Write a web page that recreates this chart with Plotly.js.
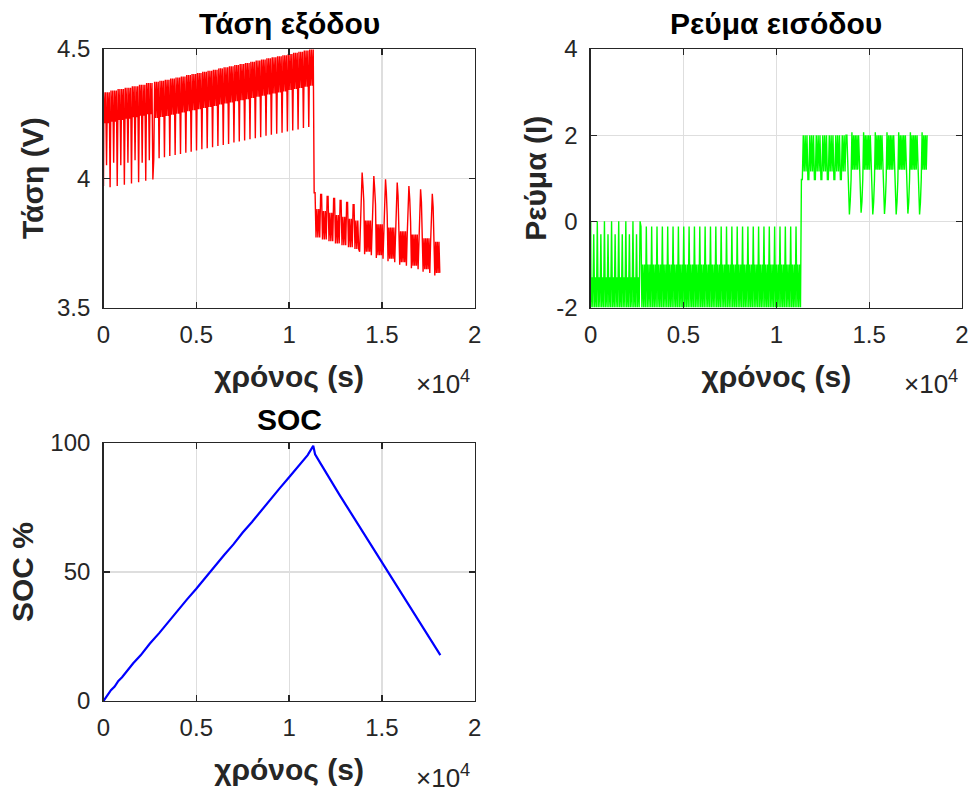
<!DOCTYPE html>
<html>
<head>
<meta charset="utf-8">
<script src="https://cdn.plot.ly/plotly-3.0.1.min.js"></script>
<style>html,body{margin:0;padding:0;background:#fff;}#chart{width:973px;height:793px;}</style>
</head>
<body>
<div id="chart"></div>
<script>
// ---------- DATA ----------
// Charging phase time samples (s)
const tCharge = [0,
 20,68,116,164,212,260,308,356, 404,452,500,548,596,644,692,740,
 788,836,884,932,980,1028,1076,1124, 1172,1220,1268,1316,1364,1412,1460,1508,
 1556,1604,1652,1700,1748,1796,1844,1892, 1940,1988,2036,2084,2132,2180,2228,2276,
 2324,2372,2420,2468,2516,2564,2612,2660,
 2708,2756,2804,2852,2900,2948, 2996,3044,3092,3140,3188,3236,
 3284,3332,3380,3428,3476,3524, 3572,3620,3668,3716,3764,3812,
 3860,3908,3956,4004,4052,4100, 4148,4196,4244,4292,4340,4388,
 4436,4484,4532,4580,4628,4676, 4724,4772,4820,4868,4916,4964,
 5012,5060,5108,5156,5204,5252, 5300,5348,5396,5444,5492,5540,
 5588,5636,5684,5732,5780,5828, 5876,5924,5972,6020,6068,6116,
 6164,6212,6260,6308,6356,6404, 6452,6500,6548,6596,6644,6692,
 6740,6788,6836,6884,6932,6980, 7028,7076,7124,7172,7220,7268,
 7316,7364,7412,7460,7508,7556, 7604,7652,7700,7748,7796,7844,
 7892,7940,7988,8036,8084,8132, 8180,8228,8276,8324,8372,8420,
 8468,8516,8564,8612,8660,8708, 8756,8804,8852,8900,8948,8996,
 9044,9092,9140,9188,9236,9284, 9332,9380,9428,9476,9524,9572,
 9620,9668,9716,9764,9812,9860, 9908,9956,10004,10052,10100,10148,
 10196,10244,10292,10340,10388,10436, 10484,10532,10580,10628,10676,10724,
 10772,10820,10868,10916,10964,11012, 11060,11108,11156,11204,11252,11300];

// Output voltage during charging (V)
const voltCharge = [3.97,
 4.333,4.213,4.333,4.050,4.333,4.213,4.333,3.965,
 4.339,4.219,4.339,4.060,4.339,4.219,4.339,3.970,
 4.345,4.225,4.345,4.050,4.345,4.225,4.345,3.975,
 4.350,4.230,4.350,4.060,4.350,4.230,4.350,3.980,
 4.356,4.236,4.356,4.070,4.356,4.236,4.356,3.985,
 4.362,4.242,4.362,4.060,4.362,4.242,4.362,3.990,
 4.368,4.248,4.368,4.070,4.368,4.248,4.368,3.995,
 4.073,4.373,4.233,4.373,4.233,4.373,
 4.077,4.377,4.237,4.377,4.237,4.377,
 4.081,4.381,4.241,4.381,4.241,4.381,
 4.086,4.386,4.246,4.386,4.246,4.386,
 4.090,4.390,4.250,4.390,4.250,4.390,
 4.094,4.394,4.254,4.394,4.254,4.394,
 4.099,4.399,4.259,4.399,4.259,4.399,
 4.103,4.403,4.263,4.403,4.263,4.403,
 4.107,4.407,4.267,4.407,4.267,4.407,
 4.112,4.412,4.272,4.412,4.272,4.412,
 4.116,4.416,4.276,4.416,4.276,4.416,
 4.120,4.420,4.280,4.420,4.280,4.420,
 4.125,4.425,4.285,4.425,4.285,4.425,
 4.129,4.429,4.289,4.429,4.289,4.429,
 4.133,4.433,4.293,4.433,4.293,4.433,
 4.138,4.438,4.298,4.438,4.298,4.438,
 4.142,4.442,4.302,4.442,4.302,4.442,
 4.146,4.446,4.306,4.446,4.306,4.446,
 4.151,4.451,4.311,4.451,4.311,4.451,
 4.155,4.455,4.315,4.455,4.315,4.455,
 4.159,4.459,4.319,4.459,4.319,4.459,
 4.164,4.464,4.324,4.464,4.324,4.464,
 4.168,4.468,4.328,4.468,4.328,4.468,
 4.172,4.472,4.332,4.472,4.332,4.472,
 4.176,4.476,4.336,4.476,4.336,4.476,
 4.181,4.481,4.341,4.481,4.341,4.481,
 4.185,4.485,4.345,4.485,4.345,4.485,
 4.189,4.489,4.349,4.489,4.349,4.489,
 4.194,4.494,4.354,4.494,4.354,4.494,
 4.198,4.498,4.358,4.498,4.358,4.498];

// Input current during charging (A)
const currCharge = [0,
 -2,-1.3,-2,-0.3,-2,-1.3,-2,0,
 -2,-1.3,-2,-0.3,-2,-1.3,-2,0,
 -2,-1.3,-2,-0.3,-2,-1.3,-2,0,
 -2,-1.3,-2,-0.3,-2,-1.3,-2,0,
 -2,-1.3,-2,-0.3,-2,-1.3,-2,0,
 -2,-1.3,-2,-0.3,-2,-1.3,-2,0,
 -2,-1.3,-2,-0.3,-2,-1.3,-2,0,
 -0.12,-2,-1.0,-2,-1.0,-2, -0.12,-2,-1.0,-2,-1.0,-2,
 -0.12,-2,-1.0,-2,-1.0,-2, -0.12,-2,-1.0,-2,-1.0,-2,
 -0.12,-2,-1.0,-2,-1.0,-2, -0.12,-2,-1.0,-2,-1.0,-2,
 -0.12,-2,-1.0,-2,-1.0,-2, -0.12,-2,-1.0,-2,-1.0,-2,
 -0.12,-2,-1.0,-2,-1.0,-2, -0.12,-2,-1.0,-2,-1.0,-2,
 -0.12,-2,-1.0,-2,-1.0,-2, -0.12,-2,-1.0,-2,-1.0,-2,
 -0.12,-2,-1.0,-2,-1.0,-2, -0.12,-2,-1.0,-2,-1.0,-2,
 -0.12,-2,-1.0,-2,-1.0,-2, -0.12,-2,-1.0,-2,-1.0,-2,
 -0.12,-2,-1.0,-2,-1.0,-2, -0.12,-2,-1.0,-2,-1.0,-2,
 -0.12,-2,-1.0,-2,-1.0,-2, -0.12,-2,-1.0,-2,-1.0,-2,
 -0.12,-2,-1.0,-2,-1.0,-2, -0.12,-2,-1.0,-2,-1.0,-2,
 -0.12,-2,-1.0,-2,-1.0,-2, -0.12,-2,-1.0,-2,-1.0,-2,
 -0.12,-2,-1.0,-2,-1.0,-2, -0.12,-2,-1.0,-2,-1.0,-2,
 -0.12,-2,-1.0,-2,-1.0,-2, -0.12,-2,-1.0,-2,-1.0,-2,
 -0.12,-2,-1.0,-2,-1.0,-2, -0.12,-2,-1.0,-2,-1.0,-2];

// Discharging phase time samples (s)
const tDischarge = [
 11350,11400,11450,11500,11550,11600,11650, 11700,11750,11800,11850,11900,11950,12000,
 12050,12100,12150,12200,12250,12300,12350, 12400,12450,12500,12550,12600,12650,12700,
 12750,12800,12850,12900,12950,13000,13050, 13100,13150,13200,13250,13300,13350,13400,
 13450,13500,13550,13600,13650,13700,13750,
 13800,13845,13890,13935,13980,14025,14070,14115,14160,14205,14250,14295,14340,14385,
 14430,14475,14520,14565,14610,14655,14700,14745,14790,14835,14880,14925,14970,15015,
 15060,15105,15150,15195,15240,15285,15330,15375,15420,15465,15510,15555,15600,15645,
 15690,15735,15780,15825,15870,15915,15960,16005,16050,16095,16140,16185,16230,16275,
 16320,16365,16410,16455,16500,16545,16590,16635,16680,16725,16770,16815,16860,16905,
 16950,16995,17040,17085,17130,17175,17220,17265,17310,17355,17400,17445,17490,17535,
 17580,17625,17670,17715,17760,17805,17850,17895,17940,17985,18030,18075,18120];

// Output voltage during discharging (V)
const voltDischarge = [
 3.944,3.944,3.771,3.881,3.771,3.881,3.771,
 3.937,3.937,3.763,3.873,3.763,3.873,3.763,
 3.930,3.930,3.756,3.866,3.756,3.866,3.756,
 3.922,3.922,3.748,3.858,3.748,3.858,3.748,
 3.914,3.914,3.741,3.851,3.741,3.851,3.741,
 3.906,3.906,3.733,3.843,3.733,3.843,3.733,
 3.898,3.898,3.726,3.836,3.726,3.836,3.726,
 3.716,3.836,3.972,4.022,3.972,3.911,3.706,3.836,3.716,3.836,3.716,3.836,3.716,3.836,
 3.702,3.822,3.959,4.009,3.959,3.898,3.692,3.822,3.702,3.822,3.702,3.822,3.702,3.822,
 3.689,3.809,3.946,3.996,3.946,3.859,3.679,3.809,3.689,3.809,3.689,3.809,3.689,3.809,
 3.675,3.795,3.933,3.983,3.933,3.839,3.665,3.795,3.675,3.795,3.675,3.795,3.675,3.795,
 3.662,3.782,3.920,3.970,3.920,3.833,3.652,3.782,3.662,3.782,3.662,3.782,3.662,3.782,
 3.648,3.768,3.907,3.957,3.907,3.813,3.638,3.768,3.648,3.768,3.648,3.768,3.648,3.768,
 3.634,3.754,3.890,3.940,3.890,3.793,3.624,3.754,3.634,3.754,3.634,3.754,3.634];

// Input current during discharging (A)
const currDischarge = [
 0.97,0.97,2.0,1.16,2.0,1.16,2.0,
 0.97,0.97,2.0,1.16,2.0,1.16,2.0,
 0.97,0.97,2.0,1.16,2.0,1.16,2.0,
 0.97,0.97,2.0,1.16,2.0,1.16,2.0,
 0.97,0.97,2.0,1.16,2.0,1.16,2.0,
 0.97,0.97,2.0,1.16,2.0,1.16,2.0,
 0.97,0.97,2.0,1.16,2.0,1.16,2.0,
 2.0,1.2,0.47,0.16,0.47,0.97,2.07,1.2,2.0,1.2,2.0,1.2,2.0,1.2,
 2.0,1.2,0.45,0.20,0.45,0.97,2.07,1.2,2.0,1.2,2.0,1.2,2.0,1.2,
 2.0,1.2,0.44,0.16,0.44,0.97,2.07,1.2,2.0,1.2,2.0,1.2,2.0,1.2,
 2.0,1.2,0.46,0.17,0.46,0.97,2.07,1.2,2.0,1.2,2.0,1.2,2.0,1.2,
 2.0,1.2,0.45,0.16,0.45,0.97,2.07,1.2,2.0,1.2,2.0,1.2,2.0,1.2,
 2.0,1.2,0.44,0.18,0.44,0.97,2.07,1.2,2.0,1.2,2.0,1.2,2.0,1.2,
 2.0,1.2,0.43,0.16,0.43,0.97,2.07,1.2,2.0,1.2,2.0,1.2,2.0];

// State of charge (%)
const socTime = [0,200,400,600,800,1000,1200,1600,2000,2500,3000,3500,4000,4500,5000,5500,6000,6500,7000,7500,8000,8500,9000,9500,10000,10500,11000,11300,11400,11700,12200,12700,13200,13700,14200,14700,15200,15700,16200,16700,17200,17700,18150];
const socVal  = [0,2.3,4.2,5.6,7.8,9.2,11.1,14.6,17.7,22.3,26.3,30.8,34.9,39.4,43.5,48.0,52.1,56.6,60.7,65.3,69.4,73.9,78.0,82.5,86.7,91.2,95.3,98.9,95.6,92.0,85.8,80.1,74.4,68.7,63.0,57.2,51.5,45.8,40.1,34.4,28.7,23.0,17.8];

// Tick labels
const xTickVals = [0,5000,10000,15000,20000];
const xTickText = ['0','0.5','1','1.5','2'];
const vTickVals = [3.5,4,4.5];
const vTickText = ['3.5','4','4.5'];
const iTickVals = [-2,0,2,4];
const iTickText = ['-2','0','2','4'];
const sTickVals = [0,50,100];
const sTickText = ['0','50','100'];

// Texts
const titles = ['Τάση εξόδου','Ρεύμα εισόδου','SOC'];
const xLabel = 'χρόνος (s)';
const yLabels = ['Τάση (V)','Ρεύμα (I)','SOC %'];

// ---------- FIGURE ----------
const W = 973, H = 793;
const px = x => x / W;
const py = y => 1 - y / H;
const FONT = 'Liberation Sans, Arial, Helvetica, sans-serif';
const AX = '#262626';
const TICK_SIZE = 24, LABEL_SIZE = 30, TITLE_SIZE = 30;

const timeAll = tCharge.concat(tDischarge);
const voltAll = voltCharge.concat(voltDischarge);
const currAll = currCharge.concat(currDischarge);

const traces = [
  {x: timeAll, y: voltAll, xaxis: 'x', yaxis: 'y', type: 'scatter', mode: 'lines',
   line: {color: '#ff0000', width: 1.4}, hoverinfo: 'skip'},
  {x: timeAll, y: currAll, xaxis: 'x2', yaxis: 'y2', type: 'scatter', mode: 'lines',
   line: {color: '#00ff00', width: 1.4}, hoverinfo: 'skip'},
  {x: socTime, y: socVal, xaxis: 'x3', yaxis: 'y3', type: 'scatter', mode: 'lines',
   line: {color: '#0000ff', width: 2.2}, hoverinfo: 'skip'}
];

function axisBase(extra) {
  return Object.assign({
    showline: true, linecolor: AX, linewidth: 1.3, mirror: 'ticks',
    ticks: 'inside', ticklen: 6, tickwidth: 1.3, tickcolor: AX,
    showgrid: true, gridcolor: '#dedede', gridwidth: 1.2, zeroline: false,
    tickfont: {family: FONT, size: TICK_SIZE, color: AX}, fixedrange: true,
    automargin: false
  }, extra);
}

const xL = [103.5 / W, 474.7 / W];
const xR = [590.7 / W, 962 / W];
const yT = [py(307.5), py(49)];
const yB = [py(701), py(443)];

const boldFont = (size, color) => ({family: FONT, size: size, color: color, weight: 'bold'});

const xCommon = {range: [0, 20000], tickmode: 'array', tickvals: xTickVals, ticktext: xTickText,
  ticklabelstandoff: 5,
  title: {text: xLabel, font: boldFont(LABEL_SIZE, AX), standoff: 19}};
const yTitle = (t, s) => ({text: t, font: boldFont(LABEL_SIZE, AX), standoff: s});

const annTitle = (text, x, y) => ({text: text, x: px(x), y: py(y), xref: 'paper', yref: 'paper',
  xanchor: 'center', yanchor: 'middle', showarrow: false, font: boldFont(TITLE_SIZE, '#000')});
const annExp = (x, y) => ({text: '×10<sup>4</sup>', x: px(x), y: py(y), xref: 'paper', yref: 'paper',
  xanchor: 'right', yanchor: 'middle', showarrow: false, font: {family: FONT, size: 26, color: AX}});

const layout = {
  width: W, height: H,
  margin: {l: 0, r: 0, t: 0, b: 0},
  paper_bgcolor: '#ffffff', plot_bgcolor: '#ffffff',
  showlegend: false,
  xaxis:  axisBase(Object.assign({domain: xL, anchor: 'y'}, xCommon)),
  yaxis:  axisBase({domain: yT, anchor: 'x', range: [3.5, 4.5], tickmode: 'array', tickvals: vTickVals, ticktext: vTickText, ticklabelstandoff: 7, title: yTitle(yLabels[0], 4)}),
  xaxis2: axisBase(Object.assign({domain: xR, anchor: 'y2'}, xCommon)),
  yaxis2: axisBase({domain: yT, anchor: 'x2', range: [-2, 4], tickmode: 'array', tickvals: iTickVals, ticktext: iTickText, ticklabelstandoff: 7, title: yTitle(yLabels[1], 0)}),
  xaxis3: axisBase(Object.assign({domain: xL, anchor: 'y3'}, xCommon)),
  yaxis3: axisBase({domain: yB, anchor: 'x3', range: [0, 100], tickmode: 'array', tickvals: sTickVals, ticktext: sTickText, ticklabelstandoff: 7, title: yTitle(yLabels[2], 8)}),
  annotations: [
    annTitle(titles[0], 289, 24),
    annTitle(titles[1], 776, 24),
    annTitle(titles[2], 289, 420),
    annExp(472, 382), annExp(960, 382), annExp(472, 776)
  ]
};

Plotly.newPlot('chart', traces, layout, {displayModeBar: false, staticPlot: true});
</script>
</body>
</html>
